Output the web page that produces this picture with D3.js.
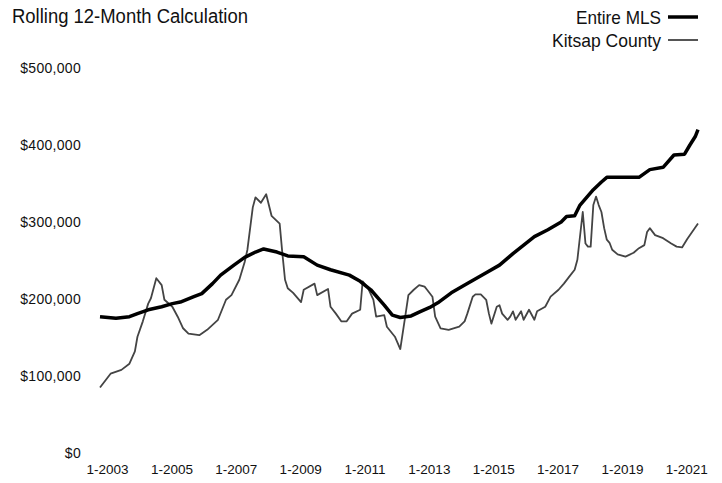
<!DOCTYPE html>
<html>
<head>
<meta charset="utf-8">
<script src="https://cdn.jsdelivr.net/npm/d3@7"></script>
<style>
  body { margin: 0; background: #fff; }
  text { fill: #111; }
</style>
</head>
<body>
<div id="line-chart"></div>
<script>
// rolling 12-month median price, values in dollars
const mlsMonths = ["2003-01","2003-07","2003-12","2004-03","2004-07","2004-12","2005-04","2005-07","2005-12","2006-03","2006-07","2006-10","2007-03","2007-07","2007-11","2008-02","2008-07","2008-11","2009-05","2009-10","2010-03","2010-10","2011-02","2011-06","2011-11","2012-02","2012-05","2012-09","2012-12","2013-04","2013-07","2013-12","2014-06","2015-01","2015-06","2015-11","2016-07","2016-12","2017-05","2017-07","2017-10","2017-12","2018-05","2018-08","2018-10","2019-10","2020-02","2020-07","2020-11","2021-03","2021-05","2021-07","2021-08"];
const mlsValues = [177,175,177,181,186,190,194,196,203,207,220,231,244,254,261,265,261,256,255,244,238,231,223,212,192,179,176,178,183,189,195,208,220,234,244,259,281,290,300,307,308,322,342,352,358,358,368,371,387,388,400,411,420].map(v => v * 1000);

const kitsapMonths = ["2003-01","2003-05","2003-09","2003-12","2004-02","2004-03","2004-05","2004-07","2004-08","2004-10","2004-12","2005-01","2005-04","2005-06","2005-08","2005-10","2006-02","2006-05","2006-09","2006-12","2007-02","2007-05","2007-07","2007-08","2007-10","2007-11","2008-01","2008-03","2008-05","2008-08","2008-09","2008-10","2008-11","2009-01","2009-04","2009-05","2009-09","2009-10","2010-02","2010-03","2010-05","2010-07","2010-09","2010-11","2011-02","2011-03","2011-05","2011-07","2011-08","2011-11","2011-12","2012-03","2012-05","2012-07","2012-08","2012-10","2012-12","2013-02","2013-03","2013-05","2013-06","2013-08","2013-11","2014-03","2014-05","2014-06","2014-08","2014-09","2014-11","2015-01","2015-02","2015-03","2015-05","2015-06","2015-07","2015-09","2015-10","2015-11","2015-12","2016-02","2016-03","2016-05","2016-07","2016-08","2016-11","2017-01","2017-04","2017-06","2017-08","2017-10","2017-11","2018-01","2018-02","2018-03","2018-04","2018-05","2018-06","2018-07","2018-08","2018-09","2018-10","2018-11","2018-12","2019-02","2019-05","2019-08","2019-10","2019-12","2020-01","2020-02","2020-04","2020-07","2020-10","2020-12","2021-02","2021-04","2021-06","2021-08"];
const kitsapValues = [85,103,108,116,132,151,171,194,201,227,218,199,190,177,162,155,153,160,173,199,205,225,248,264,319,332,325,336,308,298,259,225,214,208,196,212,220,205,213,190,181,171,171,181,186,223,214,199,177,179,164,151,135,181,205,212,218,216,212,203,177,162,160,164,171,181,203,206,206,199,181,168,190,192,181,173,177,184,173,184,173,186,173,184,190,203,212,220,229,238,251,313,272,268,268,322,333,322,313,292,277,273,264,258,255,260,266,270,287,292,283,279,272,268,267,278,288,298].map(v => v * 1000);

const yTicks = [0, 100000, 200000, 300000, 400000, 500000];
const xTickYears = [2003, 2005, 2007, 2009, 2011, 2013, 2015, 2017, 2019, 2021];

const width = 722, height = 483;
const parseMonth = d3.timeParse("%Y-%m");

const mls = mlsMonths.map((m, i) => ({ date: parseMonth(m), value: mlsValues[i] }));
const kitsap = kitsapMonths.map((m, i) => ({ date: parseMonth(m), value: kitsapValues[i] }));

const svg = d3.select("#line-chart")
  .append("svg")
    .attr("width", width)
    .attr("height", height)
    .style("font-family", "'Liberation Sans', Arial, sans-serif");

// scales
const x = d3.scaleTime()
  .domain([parseMonth("2003-01"), parseMonth("2021-08")])
  .range([100, 698]);

const y = d3.scaleLinear()
  .domain([0, 500000])
  .range([453, 68]);

// y axis labels only
const yAxis = svg.append("g")
  .attr("transform", "translate(81,0)")
  .call(d3.axisLeft(y)
    .tickValues(yTicks)
    .tickSize(0)
    .tickPadding(0)
    .tickFormat(d => "$" + d3.format(",")(d)));
yAxis.select(".domain").remove();
yAxis.selectAll("text")
  .attr("font-size", 14)
  .attr("letter-spacing", 0.3)
  .attr("fill", "#111");

// x axis labels only
const xAxis = svg.append("g")
  .attr("transform", "translate(7,453)")
  .call(d3.axisBottom(x)
    .tickValues(xTickYears.map(yr => new Date(yr, 0, 1)))
    .tickSize(0)
    .tickPadding(11)
    .tickFormat(d3.timeFormat("%-m-%Y")));
xAxis.select(".domain").remove();
xAxis.selectAll("text")
  .attr("font-size", 13.5)
  .attr("fill", "#111");

const line = d3.line()
  .x(d => x(d.date))
  .y(d => y(d.value));

// Kitsap County - thin grey line
svg.append("path")
  .datum(kitsap)
  .attr("fill", "none")
  .attr("stroke", "#444")
  .attr("stroke-width", 1.8)
  .attr("stroke-linejoin", "round")
  .attr("d", line);

// Entire MLS - thick black line
svg.append("path")
  .datum(mls)
  .attr("fill", "none")
  .attr("stroke", "#000")
  .attr("stroke-width", 3.5)
  .attr("stroke-linejoin", "round")
  .attr("d", line);

// title (condensed face squeezed to the original width)
svg.append("text")
  .attr("x", 12)
  .attr("y", 23)
  .attr("font-size", 20)
  .attr("textLength", 236)
  .attr("lengthAdjust", "spacingAndGlyphs")
  .text("Rolling 12-Month Calculation");

// legend
const legend = [
  { label: "Entire MLS", stroke: "#000", w: 3.5, y: 24, len: 85 },
  { label: "Kitsap County", stroke: "#555", w: 2, y: 47, len: 109 }
];
legend.forEach(l => {
  svg.append("text")
    .attr("x", 661 - l.len)
    .attr("y", l.y)
    .attr("font-size", 19)
    .attr("textLength", l.len)
    .attr("lengthAdjust", "spacingAndGlyphs")
    .text(l.label);
  svg.append("line")
    .attr("x1", 668).attr("x2", 698)
    .attr("y1", l.y - 7).attr("y2", l.y - 7)
    .attr("stroke", l.stroke)
    .attr("stroke-width", l.w);
});
</script>
</body>
</html>
